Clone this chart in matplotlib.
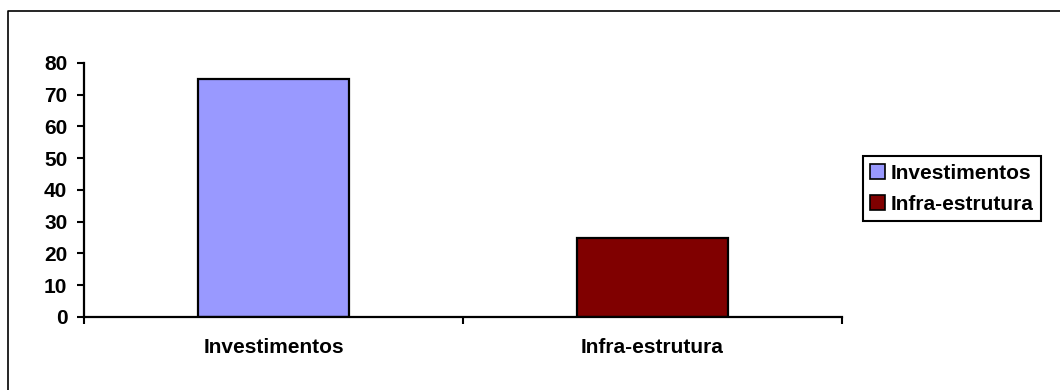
#!/usr/bin/env python3

# bar chart: Investimentos vs Infra-estrutura

import matplotlib as mpl
mpl.use('Agg')
import matplotlib.pyplot as plt
from matplotlib.lines import Line2D
from matplotlib.patches import Patch

categories = ["Investimentos", "Infra-estrutura"]
values = [75, 25]
colors = ["#9999FF", "#800000"]
yticks = [0, 10, 20, 30, 40, 50, 60, 70, 80]

plt.rcParams['font.family'] = ['Liberation Sans', 'DejaVu Sans']
plt.rcParams['font.weight'] = 'bold'
fs = 15

fig = plt.figure(figsize=(10.6, 3.9), dpi=100)
ax = fig.add_axes([0.0792, 0.1872, 0.7151, 0.6513])

xs = list(range(len(categories)))
ax.bar(xs, values, width=0.4, color=colors, edgecolor='black', linewidth=1.6)

ax.set_xlim(-0.5, len(categories) - 0.5)
ax.set_ylim(0, 80)
ax.set_yticks(yticks)
ax.set_yticklabels([str(v) for v in yticks], fontsize=fs, fontweight='bold')

# ticks sit between categories, labels go on minor ticks at the centres
ax.set_xticks([i - 0.5 for i in range(len(categories) + 1)])
ax.set_xticklabels([])
ax.set_xticks(xs, minor=True)
ax.set_xticklabels(categories, minor=True, fontsize=fs, fontweight='bold')
ax.tick_params(axis='x', which='major', length=5, width=1.5, direction='out')
ax.tick_params(axis='x', which='minor', length=0, pad=15)
ax.tick_params(axis='y', length=5, width=1.5, direction='out', pad=7)

for s in ['top', 'right']:
    ax.spines[s].set_visible(False)
for s in ['left', 'bottom']:
    ax.spines[s].set_linewidth(1.6)

handles = [Patch(facecolor=c, edgecolor='black', linewidth=1.2) for c in colors]
leg = fig.legend(handles, categories, loc='center left',
                 bbox_to_anchor=(0.814, 0.516), bbox_transform=fig.transFigure,
                 prop={'weight': 'bold', 'size': fs},
                 fancybox=False, shadow=False, framealpha=1,
                 handlelength=0.7, handleheight=0.7, handletextpad=0.3,
                 labelspacing=0.6, borderpad=0.35, borderaxespad=0)
leg.get_frame().set_edgecolor('black')
leg.get_frame().set_linewidth(1.5)

# outer frame line (left and top edges)
x0 = 8 / 1060
y0 = 1 - 11 / 390
fig.add_artist(Line2D([x0, x0, 1.0], [0.0, y0, y0], color='black', linewidth=1.2,
                      transform=fig.transFigure))

plt.savefig("out.png", dpi=100)
